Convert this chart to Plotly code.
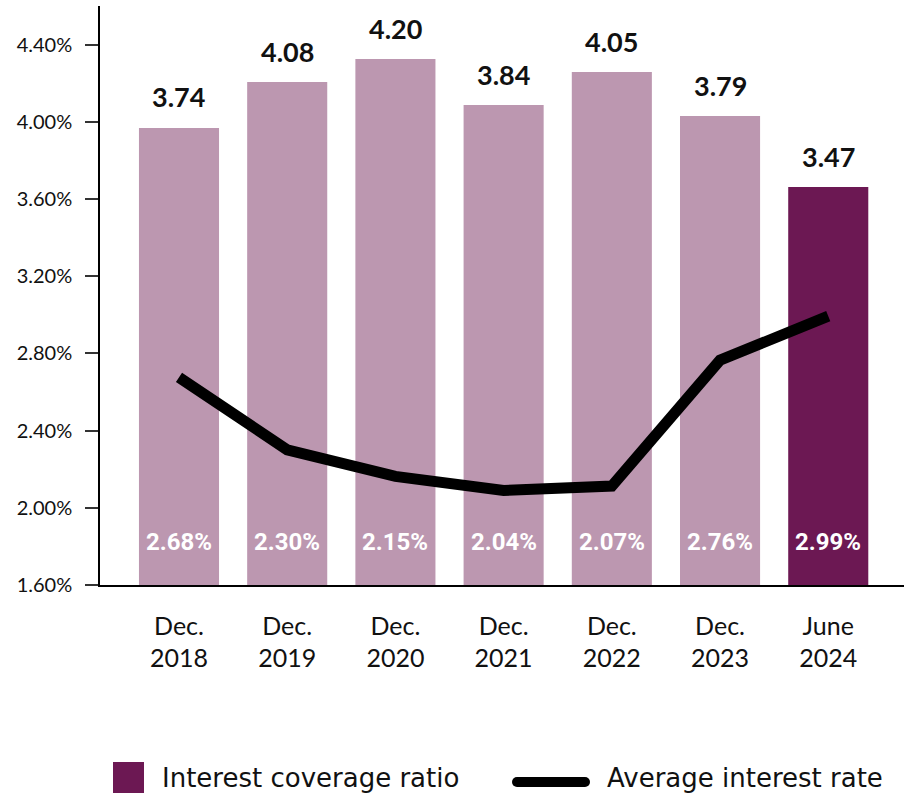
import plotly.graph_objects as go

# ---------------- data ----------------
categories = ["Dec.<br>2018", "Dec.<br>2019", "Dec.<br>2020", "Dec.<br>2021",
              "Dec.<br>2022", "Dec.<br>2023", "June<br>2024"]
coverage_ratio = [3.74, 4.08, 4.20, 3.84, 4.05, 3.79, 3.47]
# bar tops as drawn on the left (%) axis
bar_height = [3.968, 4.206, 4.325, 4.087, 4.258, 4.030, 3.662]
# average interest rate: printed labels and line as drawn on the % axis
avg_rate_label = [2.68, 2.30, 2.15, 2.04, 2.07, 2.76, 2.99]
avg_rate_line = [2.676, 2.300, 2.163, 2.090, 2.113, 2.765, 2.993]
y_tickvals = [1.6, 2.0, 2.4, 2.8, 3.2, 3.6, 4.0, 4.4]
y_ticktext = ["1.60%", "2.00%", "2.40%", "2.80%", "3.20%", "3.60%", "4.00%", "4.40%"]

LIGHT = "#BC97B0"
DARK = "#6C1853"
FONT = "Lato"
LEG_FONT = "DejaVu Sans"

W, H = 904, 795
ML, MR, MT, MB = 100, 0, 6, 210

def px_x(px):
    return (px - ML) / (W - ML - MR)

def px_y(py):
    return (H - MB - py) / (H - MT - MB)

bar_colors = [LIGHT] * (len(categories) - 1) + [DARK]

fig = go.Figure()
fig.add_trace(go.Bar(
    x=categories, y=bar_height, marker=dict(color=bar_colors, line=dict(width=0)),
    width=0.74, name="Interest coverage ratio", hoverinfo="skip",
))
fig.add_trace(go.Scatter(
    x=categories, y=avg_rate_line, mode="lines",
    line=dict(color="#000000", width=11), name="Average interest rate",
))

annotations = []
for c, h, r in zip(categories, bar_height, coverage_ratio):
    annotations.append(dict(
        x=c, y=h, xref="x", yref="y", text=f"<b>{r:.2f}</b>", showarrow=False,
        yanchor="middle", yshift=31, font=dict(family=FONT, size=27, color="#111111"),
    ))
for c, v in zip(categories, avg_rate_label):
    annotations.append(dict(
        x=c, y=0, xref="x", yref="paper", text=f"<b>{v:.2f}%</b>", showarrow=False,
        yanchor="middle", yshift=43, font=dict(family="Roboto", size=24, color="#FFFFFF"),
    ))

# legend (drawn manually)
annotations.append(dict(
    x=px_x(160), y=px_y(778), xref="paper", yref="paper", xanchor="left", yanchor="middle",
    text="Interest coverage ratio", showarrow=False,
    font=dict(family=LEG_FONT, size=26, color="#111111"),
))
annotations.append(dict(
    x=px_x(605), y=px_y(778), xref="paper", yref="paper", xanchor="left", yanchor="middle",
    text="Average interest rate", showarrow=False,
    font=dict(family=LEG_FONT, size=26, color="#111111"),
))
shapes = [
    dict(type="rect", xref="paper", yref="paper",
         x0=px_x(113), x1=px_x(144), y0=px_y(762), y1=px_y(793),
         fillcolor=DARK, line=dict(width=0)),
    dict(type="line", xref="paper", yref="paper",
         x0=px_x(517), x1=px_x(585), y0=px_y(782), y1=px_y(782),
         line=dict(color="#000000", width=10)),
    dict(type="circle", xref="paper", yref="paper",
         x0=px_x(512), x1=px_x(522), y0=px_y(777), y1=px_y(787),
         fillcolor="#000000", line=dict(width=0)),
    dict(type="circle", xref="paper", yref="paper",
         x0=px_x(580), x1=px_x(590), y0=px_y(777), y1=px_y(787),
         fillcolor="#000000", line=dict(width=0)),
]

fig.update_layout(
    width=W, height=H,
    margin=dict(l=ML, r=MR, t=MT, b=MB),
    paper_bgcolor="white", plot_bgcolor="white",
    showlegend=False,
    annotations=annotations, shapes=shapes,
    font=dict(family=FONT, color="#111111"),
    xaxis=dict(
        type="category", range=[-0.73, 6.70], showline=True, linecolor="#000000",
        linewidth=1.5, ticks="", showgrid=False, zeroline=False,
        tickfont=dict(family=FONT, size=25, color="#111111"), ticklabelstandoff=18,
    ),
    yaxis=dict(
        range=[1.6, 4.6], tickvals=y_tickvals, ticktext=y_ticktext,
        ticks="outside", ticklen=13, tickwidth=1.5, tickcolor="#333333",
        showline=True, linecolor="#000000", linewidth=1.5,
        showgrid=False, zeroline=False, ticklabelstandoff=9,
        tickfont=dict(family=FONT, size=20, color="#111111"),
    ),
)

fig.write_html("out.html")
